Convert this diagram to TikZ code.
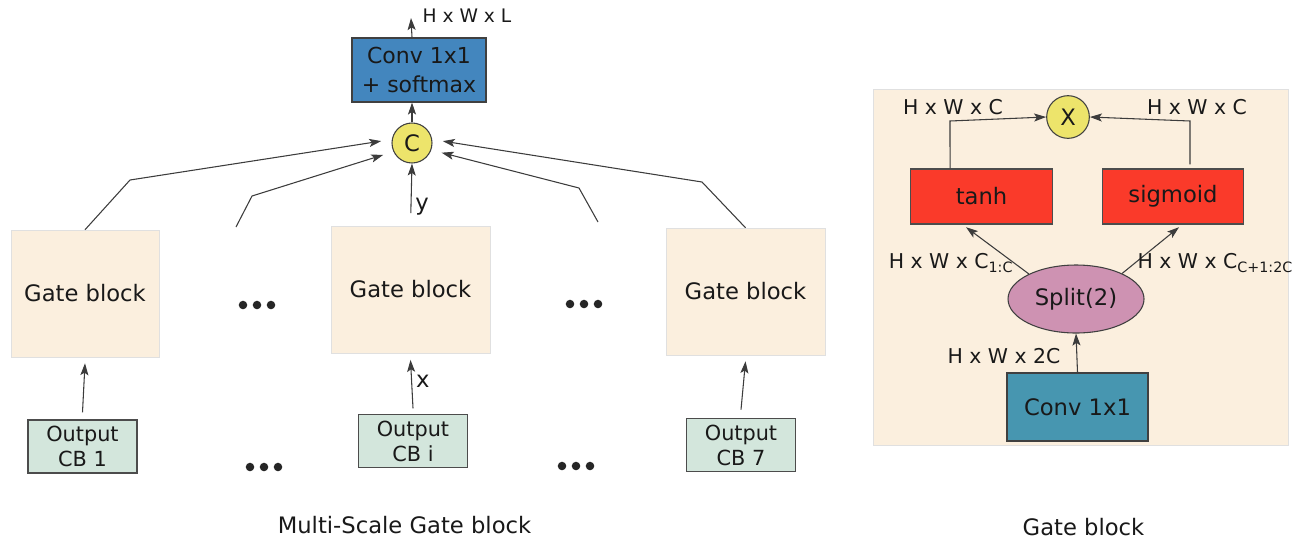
\documentclass[tikz,border=0pt]{standalone}
\usepackage{fontspec}
\setmainfont{DejaVu Sans}
\usetikzlibrary{arrows.meta,shapes.geometric}

\definecolor{softblue}{RGB}{67,134,190}
\definecolor{catyellow}{RGB}{237,228,107}
\definecolor{gatefill}{RGB}{251,239,222}
\definecolor{outfill}{RGB}{211,230,220}
\definecolor{actred}{RGB}{250,58,42}
\definecolor{splitpink}{RGB}{206,146,178}
\definecolor{convteal}{RGB}{71,150,176}
\definecolor{wire}{RGB}{60,60,60}

\tikzset{
  >={Stealth[length=9pt,width=6pt,inset=2pt]},
  every node/.style={font=\fontsize{17}{20}\selectfont, text=black!90},
  wire/.style={draw=wire, line width=0.8pt},
  gate/.style={draw=black!12, fill=gatefill, minimum width=111pt, minimum height=95.25pt},
  outbox/.style={draw=black!70, line width=1.1pt, fill=outfill, minimum width=82pt,
    minimum height=40pt, align=center, inner sep=1pt,
    font=\fontsize{15.6}{18.75}\selectfont},
  opcircle/.style={circle, draw=black!75, line width=0.8pt, fill=catyellow, inner sep=0pt},
  actbox/.style={draw=black!70, line width=0.8pt, fill=actred, minimum width=106pt, minimum height=41.25pt},
  dimlbl/.style={font=\fontsize{15.3}{18}\selectfont, inner sep=1pt},
}

\begin{document}
\begin{tikzpicture}[x=0.75pt,y=-0.75pt]
\useasboundingbox (0,0) rectangle (1298,540);

% multi-scale part
\node [draw=black!75, line width=0.8pt, fill=softblue, minimum width=100.5pt, minimum height=48pt,
  align=center, inner sep=1pt, font=\fontsize{16.5}{21.75}\selectfont] (sm) at (419,70) {Conv 1x1\\+ softmax};
\node [opcircle, minimum size=30pt] (cat) at (412,143) {C};
\coordinate (top) at (411,18);
\node [anchor=west, inner sep=1pt, font=\fontsize{14}{16}\selectfont] (outdim) at (421,16) {H x W x L};

\node [gate] (g1) at (85,293.5) {Gate block};
\node [gate, minimum width=119.25pt] (g2) at (410.5,289.5) {Gate block};
\node [gate, minimum width=119.25pt] (g3) at (745.5,291.5) {Gate block};

\node [outbox] (o1) at (82.5,446.5) {Output\\CB 1};
\node [outbox] (o2) at (413,441) {Output\\CB i};
\node [outbox] (o3) at (741,445) {Output\\CB 7};

% dots between the blocks
\foreach \cx/\cy in {257/305, 584/304, 264/467, 576/466}
  \foreach \d in {-14,0,14}
    \fill [black!85] (\cx+\d,\cy) circle (3.2pt);

\coordinate (b1) at (130,180);
\coordinate (d1) at (236,227);
\coordinate (b2) at (252,196);
\coordinate (d2) at (598,222);
\coordinate (b3) at (579,188);
\coordinate (b4) at (702,182);

\draw [wire,->] ([yshift=5pt]o1.north) -- ([yshift=-4.5pt]g1.south);
\draw [wire,->] ([yshift=4pt]o2.north) -- node [right, inner sep=3pt, pos=0.55] (xl) {x} ([yshift=-5pt]g2.south);
\draw [wire,->] ([yshift=6pt]o3.north) -- ([yshift=-4.5pt]g3.south);

\draw [wire,->,shorten >=8pt] (g1.north) -- (b1) -- (cat.170);
\draw [wire,->,shorten >=8pt] (d1) -- (b2) -- (cat.205);
\draw [wire,->,shorten <=9.5pt] (g2.north) -- node [right, inner sep=3pt, pos=0.3] (yl) {y} (cat.south);
\draw [wire,->,shorten >=8pt] (d2) -- (b3) -- (cat.340);
\draw [wire,->,shorten >=8pt] (g3.north) -- (b4) -- (cat.10);

\draw [wire,->] (cat.north) -- (cat.north |- sm.south);
\draw [wire,->] (cat.north |- sm.north) -- (top);

\node (cap1) at (404.5,525) {Multi-Scale Gate block};

% gate block detail
\fill [gatefill] (873,89) rectangle (1288,445);
\draw [black!12] (873,89) rectangle (1288,445);

\node [opcircle, minimum size=32pt] (mul) at (1068,117) {X};
\node [actbox] (tanh) at (981.5,196.5) {tanh};
\node [actbox] (sig) at (1173,196.5) {sigmoid};
\node [ellipse, draw=black!75, line width=0.8pt, fill=splitpink, minimum width=102pt,
  minimum height=51pt, inner sep=0pt] (split) at (1076,299) {Split(2)};
\node [draw=black!75, line width=0.8pt, fill=convteal, minimum width=105.75pt,
  minimum height=51pt] (conv) at (1077.5,407) {Conv 1x1};

\coordinate (tl) at (950,121);
\coordinate (sr) at (1190,121);
\draw [wire,->] ([xshift=-23.6pt]tanh.north) -- (tl) -- (mul.west);
\draw [wire,->] ([xshift=12.75pt,yshift=3pt]sig.north) -- (sr) -- (mul.east);
\node [dimlbl] (ldim) at (953,107) {H x W x C};
\node [dimlbl] (rdim) at (1197,107) {H x W x C};

\draw [wire,->] (split.152) -- ([xshift=-11.6pt,yshift=-2pt]tanh.south);
\draw [wire,->] (split.29) -- ([xshift=4.5pt,yshift=-2pt]sig.south);
\node [dimlbl] (lsub) at (951,263) {H x W x C\textsubscript{1:C}};
\node [dimlbl, anchor=west] (rsub) at (1136,263) {H x W x C\textsubscript{C+1:2C}};

\draw [wire,->] (conv.north) -- (split.south);
\node [dimlbl] (cdim) at (1004,356) {H x W x 2C};

\node (cap2) at (1083.5,527) {Gate block};

\end{tikzpicture}
\end{document}
